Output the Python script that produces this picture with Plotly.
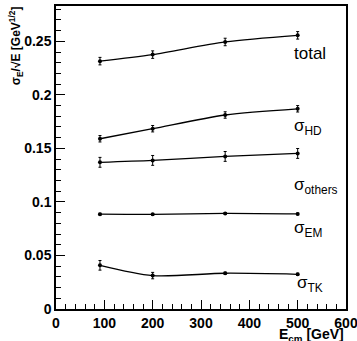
import plotly.graph_objects as go

energies = [91, 200, 350, 500]

total = [0.2315, 0.2376, 0.2494, 0.2556]
total_err = [0.0035, 0.0035, 0.0035, 0.0035]

sigma_hd = [0.159, 0.1684, 0.1812, 0.187]
sigma_hd_err = [0.003, 0.003, 0.003, 0.003]

sigma_others = [0.137, 0.1388, 0.1425, 0.1453]
sigma_others_err = [0.0046, 0.0046, 0.0046, 0.0046]

sigma_em = [0.0886, 0.0884, 0.0893, 0.0888]
sigma_em_err = [0.0008, 0.0008, 0.0008, 0.0008]

sigma_tk = [0.0408, 0.0312, 0.0334, 0.0324]
sigma_tk_err = [0.0045, 0.003, 0.001, 0.001]

labels = ["total", "σ<sub>HD</sub>", "σ<sub>others</sub>", "σ<sub>EM</sub>", "σ<sub>TK</sub>"]
label_x = [488, 488, 488, 488, 494]
label_y = [0.2390, 0.170, 0.115, 0.075, 0.0235]

series = [
    (total, total_err),
    (sigma_hd, sigma_hd_err),
    (sigma_others, sigma_others_err),
    (sigma_em, sigma_em_err),
    (sigma_tk, sigma_tk_err),
]

FONT = "Liberation Sans, Arial, sans-serif"

fig = go.Figure()
for vals, errs in series:
    fig.add_trace(go.Scatter(
        x=energies, y=vals,
        mode="lines+markers",
        line=dict(color="black", width=1.3, shape="spline", smoothing=0.8),
        marker=dict(color="black", size=4, symbol="circle"),
        error_y=dict(type="data", array=errs, visible=True, color="black", thickness=1, width=1.5),
        showlegend=False,
        cliponaxis=False,
    ))

for t, x, y in zip(labels, label_x, label_y):
    fig.add_annotation(x=x, y=y, xref="x", yref="y", text=t, showarrow=False,
                       xanchor="left", yanchor="middle",
                       font=dict(family=FONT, size=17, color="black"))

# axis titles
fig.add_annotation(x=1.0, y=-0.087, xref="paper", yref="paper", text="<b>E<sub>cm</sub> [GeV]</b>",
                   showarrow=False, xanchor="right", yanchor="middle",
                   font=dict(family=FONT, size=14, color="black"))

fig.add_annotation(x=-0.137, y=1.005, xref="paper", yref="paper",
                   text="<b>σ<sub>E</sub>/√E [GeV<sup>1/2</sup>]</b>",
                   showarrow=False, textangle=-90, xanchor="center", yanchor="top",
                   font=dict(family=FONT, size=12, color="black"))

fig.update_xaxes(
    range=[0, 600], tickmode="linear", tick0=0, dtick=100,
    ticks="inside", ticklen=9, tickcolor="black", tickwidth=1,
    minor=dict(ticks="inside", ticklen=5, dtick=20, tickcolor="black"),
    showline=True, linecolor="black", linewidth=1.5, mirror=True,
    showgrid=False, zeroline=False, automargin=False,
    ticklabeloverflow="allow",
    tickfont=dict(family=FONT, size=14, color="black", weight="bold"),
)
fig.update_yaxes(
    range=[0, 0.283], tickmode="array",
    tickvals=[0, 0.05, 0.1, 0.15, 0.2, 0.25],
    ticktext=["0", "0.05", "0.1", "0.15", "0.2", "0.25"],
    ticks="inside", ticklen=9, tickcolor="black", tickwidth=1,
    minor=dict(ticks="inside", ticklen=5, dtick=0.01, tick0=0, tickcolor="black"),
    showline=True, linecolor="black", linewidth=1.5, mirror=True,
    showgrid=False, zeroline=False, automargin=False,
    tickfont=dict(family=FONT, size=14, color="black", weight="bold"),
)

fig.update_layout(
    width=357, height=341,
    margin=dict(l=56, r=11, t=6, b=32, autoexpand=False),
    paper_bgcolor="white", plot_bgcolor="white",
)

fig.write_html(
    "out.html",
    config={"responsive": False, "displayModeBar": False},
    post_script="document.body.style.margin='0';document.body.style.padding='0';document.body.style.overflow='hidden';",
)
